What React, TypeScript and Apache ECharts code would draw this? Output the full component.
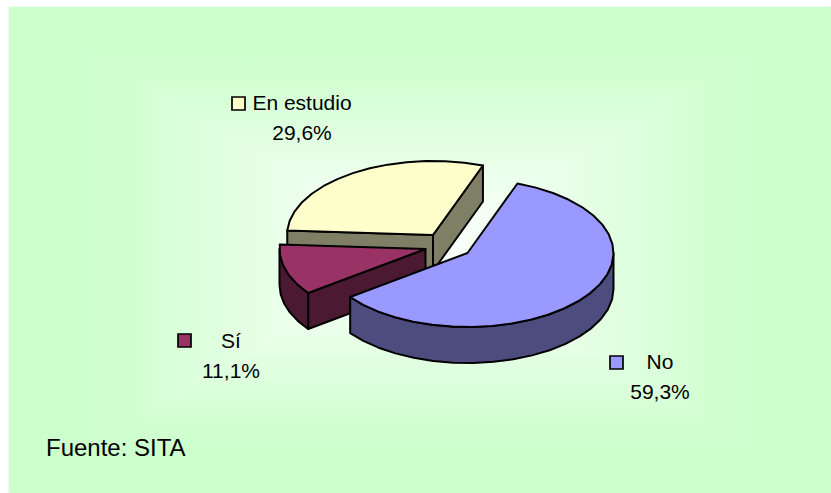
import React, { useEffect, useRef } from "react";
import * as echarts from "echarts";

const categories = ["No", "Sí", "En estudio"];
const shares = [59.3, 11.1, 29.6];
const topColors = ["#9999FF", "#993366", "#FFFFCC"];
const sideColors = ["#4C4C7F", "#4C1933", "#7F7F66"];
const sourceNote = "Fuente: SITA";

// Pie projection
const START_ANGLE = 20;
const RX = 146;
const RY = 74;
const DEPTH = 36;
const ARC_STEP = 8;
// Centre of each pulled-out wedge
const wedgeCentres = [
  [467.5, 253],
  [425.5, 249],
  [433, 235],
];
// Legend-style callouts: key square, name line, value line
const callouts = [
  { key: [610, 356], name: [660, 361], value: [660, 391] },
  { key: [178, 334], name: [231, 340], value: [231, 370] },
  { key: [232, 97], name: [302, 102], value: [302, 132] },
];

const W = 831;
const H = 493;
const PANEL = { x: 9, y: 7, right: 831, bottom: 493 };

type Pt = [number, number];

const wedges = (() => {
  let a = START_ANGLE;
  return shares.map((s, i) => {
    const sweep = (s / 100) * 360;
    const w = { i, a0: a, a1: a + sweep };
    a += sweep;
    return w;
  });
})();

const rad = (d: number) => (d * Math.PI) / 180;

function rim(c: number[], deg: number, drop = 0): Pt {
  return [c[0] + RX * Math.sin(rad(deg)), c[1] - RY * Math.cos(rad(deg)) + drop];
}

function arc(c: number[], a0: number, a1: number, drop = 0): Pt[] {
  const pts: Pt[] = [];
  const n = Math.max(1, Math.ceil((a1 - a0) / ARC_STEP));
  for (let k = 0; k <= n; k++) pts.push(rim(c, a0 + ((a1 - a0) * k) / n, drop));
  return pts;
}

function wedgeShapes(idx: number) {
  const { a0, a1 } = wedges[idx];
  const c = wedgeCentres[idx];
  const line = { stroke: "#000", lineWidth: 2, lineJoin: "round" };
  const poly = (points: Pt[], fill: string) => ({
    type: "polygon",
    shape: { points },
    style: { fill, ...line },
  });
  const side = sideColors[idx];
  const out: any[] = [];
  const face = (deg: number) => {
    const p = rim(c, deg);
    out.push(
      poly(
        [
          [c[0], c[1]],
          p,
          [p[0], p[1] + DEPTH],
          [c[0], c[1] + DEPTH],
        ],
        side
      )
    );
  };
  if (Math.sin(rad(a0)) < 0) face(a0);
  if (Math.sin(rad(a1)) > 0) face(a1);
  // Outer wall is seen only on the near half of the ellipse
  const from = Math.max(a0, 90);
  const to = Math.min(a1, 270);
  if (to > from) {
    out.push(poly([...arc(c, from, to), ...arc(c, from, to, DEPTH).reverse()], side));
  }
  out.push(poly([[c[0], c[1]], ...arc(c, a0, a1)], topColors[idx]));
  return { type: "group", children: out };
}

// Rectangular path gradient: four triangles meeting at the panel centre
function panelBackground() {
  const { x, y, right, bottom } = PANEL;
  const cx = (x + right) / 2;
  const cy = (y + bottom) / 2;
  const stops = (rev: boolean) => {
    const s = [
      { offset: 0, color: "#CCFFCC" },
      { offset: 0.15, color: "#CCFFCC" },
      { offset: 0.3, color: "#D2FFD2" },
      { offset: 1, color: "#FFFFFF" },
    ];
    return rev ? s.map((t) => ({ offset: 1 - t.offset, color: t.color })).reverse() : s;
  };
  const grad = (x2: number, y2: number, rev: boolean) => ({
    type: "linear",
    x: 0,
    y: 0,
    x2,
    y2,
    colorStops: stops(rev),
  });
  const tri = (points: Pt[], fill: any) => ({
    type: "polygon",
    shape: { points },
    style: { fill, stroke: fill, lineWidth: 0.6 },
    silent: true,
  });
  return [
    tri([[x, y], [right, y], [cx, cy]], grad(0, 1, false)),
    tri([[x, bottom], [right, bottom], [cx, cy]], grad(0, 1, true)),
    tri([[x, y], [x, bottom], [cx, cy]], grad(1, 0, false)),
    tri([[right, y], [right, bottom], [cx, cy]], grad(1, 0, true)),
  ];
}

const FONT_FAMILY = "'Liberation Sans', Arial, sans-serif";

function text(str: string, x: number, y: number, size: number, align = "center") {
  return {
    type: "text",
    x,
    y,
    style: {
      text: str,
      textAlign: align,
      textVerticalAlign: "middle",
      fontFamily: FONT_FAMILY,
      fontSize: size,
      fill: "#000",
    },
  };
}

function calloutElements() {
  const els: any[] = [];
  categories.forEach((name, i) => {
    const c = callouts[i];
    els.push({
      type: "rect",
      shape: { x: c.key[0], y: c.key[1], width: 13, height: 13 },
      style: { fill: topColors[i], stroke: "#000", lineWidth: 1.7 },
    });
    els.push(text(name, c.name[0], c.name[1], 21));
    els.push(text(`${shares[i].toFixed(1).replace(".", ",")}%`, c.value[0], c.value[1], 21));
  });
  return els;
}

export default function App() {
  const ref = useRef<HTMLDivElement>(null);
  useEffect(() => {
    document.body.style.margin = "0";
    const chart = echarts.init(ref.current!, undefined, { renderer: "svg" });
    chart.setOption({
      animation: false,
      backgroundColor: "#FFFFFF",
      graphic: [
        ...panelBackground(),
        ...calloutElements(),
        text(sourceNote, 46, 447.5, 24, "left"),
      ],
      series: [
        {
          type: "custom",
          coordinateSystem: "none",
          silent: true,
          z: 5,
          // Back-to-front paint order
          data: [2, 1, 0],
          renderItem: (_: any, api: any) => wedgeShapes(api.value(0)),
        },
      ],
    });
    return () => chart.dispose();
  }, []);
  return <div ref={ref} style={{ width: W, height: H }} />;
}
